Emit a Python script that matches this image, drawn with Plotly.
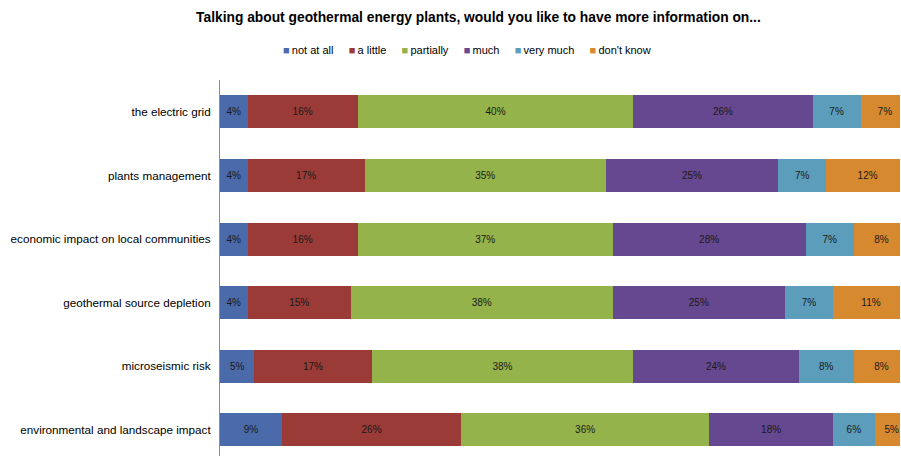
import plotly.graph_objects as go

# Survey topics (top to bottom) and answer shares in percent
topics = [
    "the electric grid",
    "plants management",
    "economic impact on local communities",
    "geothermal source depletion",
    "microseismic risk",
    "environmental and landscape impact",
]
answers = ["not at all", "a little", "partially", "much", "very much", "don't know"]

not_at_all = [4, 4, 4, 4, 5, 9]
a_little = [16, 17, 16, 15, 17, 26]
partially = [40, 35, 37, 38, 38, 36]
much = [26, 25, 28, 25, 24, 18]
very_much = [7, 7, 7, 7, 8, 6]
dont_know = [7, 12, 8, 11, 8, 5]

series = [not_at_all, a_little, partially, much, very_much, dont_know]
colors = ["#4a6aa9", "#9b3b37", "#94b34b", "#65488f", "#5b9dbb", "#d6892f"]

FONT = "Arial, 'Liberation Sans', sans-serif"

fig = go.Figure()
for name, vals, col in zip(answers, series, colors):
    fig.add_trace(go.Bar(
        y=topics,
        x=vals,
        name=name,
        orientation="h",
        marker=dict(color=col, line=dict(width=0)),
        text=[f"{v}%" for v in vals],
        textposition="inside",
        insidetextanchor="middle",
        textangle=0,
        constraintext="none",
        textfont=dict(family=FONT, size=10, color="#1a1a1a"),
        showlegend=False,
        hoverinfo="skip",
    ))

# Compact legend line: coloured square followed by the answer label
gap = "\u00a0" * 5
legend_text = gap.join(
    f"<span style='color:{c}'>\u25a0</span>\u2009{n}" for n, c in zip(answers, colors)
)

fig.update_layout(
    width=901,
    height=456,
    barmode="stack",
    bargap=0.48,
    plot_bgcolor="white",
    paper_bgcolor="white",
    margin=dict(l=220, r=1, t=80, b=0, autoexpand=False),
    font=dict(family=FONT, size=11, color="#000000"),
    title=dict(
        text="<b>Talking about geothermal energy plants, would you like to have more information on...</b>",
        x=0.531, xref="container", xanchor="center",
        y=1 - 17 / 456, yanchor="middle",
        font=dict(family=FONT, size=13.8, color="#000000"),
    ),
    xaxis=dict(
        range=[0, 98.7],
        visible=False,
        fixedrange=True,
    ),
    yaxis=dict(
        type="category",
        range=[5.41, -0.5],
        showline=True,
        linecolor="#8c8c8c",
        linewidth=1,
        showgrid=False,
        zeroline=False,
        ticks="",
        ticklabelstandoff=6,
        tickfont=dict(family=FONT, size=11.7, color="#000000"),
        fixedrange=True,
    ),
    annotations=[dict(
        text=legend_text,
        xref="paper", yref="paper",
        x=(467 - 220) / 680, xanchor="center",
        y=1 + (80 - 50) / 376, yanchor="middle",
        showarrow=False,
        font=dict(family=FONT, size=11, color="#000000"),
    )],
)

fig.write_html("out.html")
